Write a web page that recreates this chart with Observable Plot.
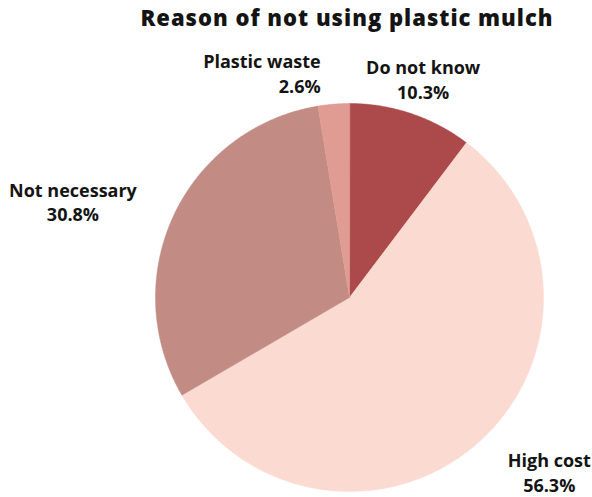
<!DOCTYPE html>
<html>
<head>
<meta charset="utf-8">
<script src="https://cdn.jsdelivr.net/npm/d3@7"></script>
<script src="https://cdn.jsdelivr.net/npm/@observablehq/plot@0.6"></script>
<style>
  body { margin: 0; background: #fff; font-family: "Open Sans", sans-serif; }
  #chart { width: 592px; }
  h2 {
    margin: 0; height: 40px; box-sizing: border-box; padding-left: 102px;
    text-align: center; font-size: 22px; font-weight: 800; line-height: 34px;
    letter-spacing: 1px; color: #141414;
  }
  svg { display: block; }
</style>
</head>
<body>
<div id="chart"><h2>Reason of not using plastic mulch</h2></div>
<script>
// Reasons given, in clockwise order from 12 o'clock
const categories = ["Do not know", "High cost", "Not necessary", "Plastic waste"];
const shares = [10.3, 56.3, 30.8, 2.6];
const colors = ["#AC4A4B", "#FBDAD2", "#C28C85", "#E09C93"];

// Label placement: text anchor and pixel offsets from the outer arc at mid-angle
const labelLayout = [
  {anchor: "middle", dx: 12,   dyName: -45.5, dyValue: -20},
  {anchor: "middle", dx: 71,   dyName: 19,    dyValue: 44},
  {anchor: "middle", dx: -101, dyName: -24,   dyValue: 0.5},
  {anchor: "end",    dx: -13,  dyName: -41.5, dyValue: -17}
];

const W = 592, H = 457;       // SVG size
const cx = 349, cy = 257, R = 194; // pie centre and radius in pixels

const rows = categories.map((c, i) => ({category: c, share: shares[i]}));
const arcs = d3.pie().sort(null).value(d => d.share)(rows);

// Each wedge as a closed polygon in unit-circle coordinates (y up)
const wedgePoints = arcs.flatMap(a => {
  const pts = [{category: a.data.category, x: 0, y: 0}];
  const steps = Math.max(2, Math.ceil((a.endAngle - a.startAngle) / (Math.PI / 360)));
  for (let k = 0; k <= steps; k++) {
    const t = a.startAngle + (a.endAngle - a.startAngle) * k / steps;
    pts.push({category: a.data.category, x: Math.sin(t), y: Math.cos(t)});
  }
  return pts;
});

const labelMarks = arcs.flatMap((a, i) => {
  const mid = (a.startAngle + a.endAngle) / 2;
  const L = labelLayout[i];
  const d = [{x: Math.sin(mid), y: Math.cos(mid), name: a.data.category, value: `${a.data.share.toFixed(1)}%`}];
  const common = {x: "x", y: "y", dx: L.dx, textAnchor: L.anchor, fontSize: 18, fontWeight: 700, fill: "#141414", fontFamily: "Open Sans"};
  return [
    Plot.text(d, {...common, text: "name", dy: L.dyName}),
    Plot.text(d, {...common, text: "value", dy: L.dyValue})
  ];
});

const chart = Plot.plot({
  width: W,
  height: H,
  margin: 0,
  style: {background: "#fff", fontFamily: "Open Sans"},
  x: {domain: [-cx / R, (W - cx) / R], range: [0, W], axis: null},
  y: {domain: [-(H - cy) / R, cy / R], range: [H, 0], axis: null},
  color: {domain: categories, range: colors},
  marks: [
    Plot.line(wedgePoints, {x: "x", y: "y", z: "category", fill: "category", stroke: "category", strokeWidth: 0.5, curve: "linear-closed"}),
    ...labelMarks
  ]
});

document.getElementById("chart").appendChild(chart);
</script>
</body>
</html>
